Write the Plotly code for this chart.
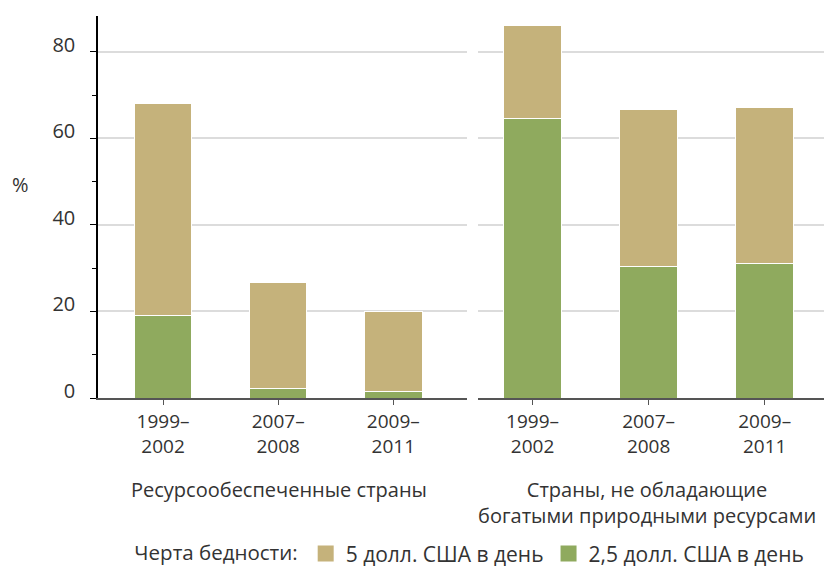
import plotly.graph_objects as go
from plotly.subplots import make_subplots

periods = ["1999–<br>2002", "2007–<br>2008", "2009–<br>2011"]
groups = ["Ресурсообеспеченные страны",
          "Страны, не обладающие<br>богатыми природными ресурсами"]

# share of population below the poverty line, %
rich_25 = [19.0, 2.3, 1.5]
rich_5 = [68.0, 26.6, 20.0]
poor_25 = [64.5, 30.5, 31.2]
poor_5 = [86.0, 66.8, 67.1]

tan = "#C5B27B"
green = "#8FAA5E"
font = "Open Sans"
txt = "#333333"

fig = make_subplots(rows=1, cols=2, shared_yaxes=True, horizontal_spacing=0.015)

for col, low, high in [(1, rich_25, rich_5), (2, poor_25, poor_5)]:
    fig.add_trace(go.Bar(x=periods, y=low, marker_color=green, width=0.5,
                         marker_line=dict(color="white", width=1),
                         showlegend=False), row=1, col=col)
    fig.add_trace(go.Bar(x=periods, y=[h - l for h, l in zip(high, low)],
                         marker_color=tan, width=0.5,
                         marker_line=dict(color="white", width=1),
                         showlegend=False), row=1, col=col)

# legend swatches
fig.add_trace(go.Scatter(x=[None], y=[None], mode="markers", name="5 долл. США в день",
                         marker=dict(symbol="square", size=22, color=tan)))
fig.add_trace(go.Scatter(x=[None], y=[None], mode="markers", name="2,5 долл. США в день",
                         marker=dict(symbol="square", size=22, color=green)))

# page body adds an 8px offset, so the figure is 8px smaller each way
fig.update_layout(
    template="none",
    barmode="stack",
    width=824, height=560,
    margin=dict(l=90, r=0, t=8, b=170, autoexpand=False),
    plot_bgcolor="white", paper_bgcolor="white",
    font=dict(family=font, size=19, color=txt),
    legend=dict(orientation="h", x=0.508, xanchor="center",
                y=-0.408, yanchor="middle", traceorder="normal",
                title=dict(text="Черта бедности:", side="left", font=dict(size=20.5)),
                font=dict(size=21), itemsizing="trace"),
)

fig.update_xaxes(domain=[0, 0.5027], range=[-0.565, 2.64], row=1, col=1)
fig.update_xaxes(domain=[0.5177, 1], range=[-0.47, 2.58], row=1, col=2)
fig.update_xaxes(showline=True, linecolor="#555555", linewidth=2,
                 ticks="outside", ticklen=5, tickcolor="#555555", tickangle=0,
                 showgrid=False, automargin=False, tickfont=dict(size=19))

fig.update_yaxes(range=[0, 88.3], dtick=20, showgrid=True, gridcolor="#dcdcdc",
                 gridwidth=1.5, zeroline=False, automargin=False)
fig.update_yaxes(showline=True, linecolor="#000000", linewidth=1.5,
                 ticks="outside", ticklen=6, tickcolor="#000000",
                 ticklabelstandoff=11, ticklabelshift=-7, tickfont=dict(size=20),
                 minor=dict(dtick=10, ticks="outside", ticklen=4, tickcolor="#000000",
                            showgrid=False),
                 row=1, col=1)

fig.add_annotation(text="%", xref="paper", yref="paper", x=-0.105, y=0.56,
                   xanchor="center", showarrow=False, font=dict(size=20))
fig.add_annotation(text=groups[0], xref="paper", yref="paper", x=0.2466,
                   y=-0.2, xanchor="center", yanchor="top", showarrow=False,
                   font=dict(size=20))
fig.add_annotation(text=groups[1], xref="paper", yref="paper", x=0.748,
                   y=-0.2, xanchor="center", yanchor="top", showarrow=False,
                   font=dict(size=20))

fig.write_html("out.html")
